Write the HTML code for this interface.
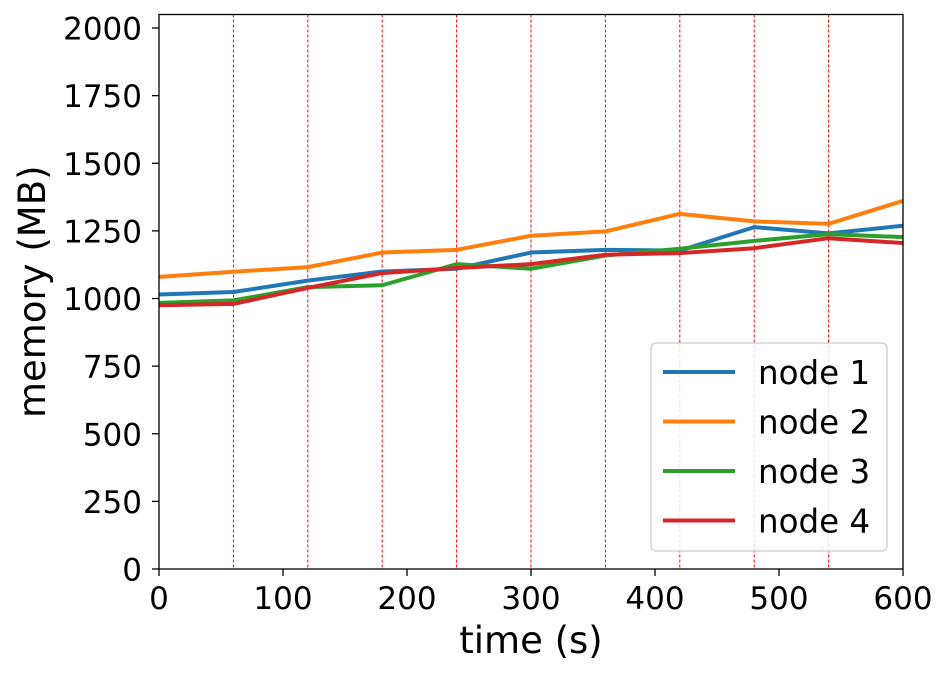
<!DOCTYPE html>
<html><head><meta charset="utf-8"><style>
body{margin:0;background:#fff;}
svg{display:block;font-family:"DejaVu Sans","Liberation Sans",sans-serif;}
</style></head><body>
<svg id="chart" width="949" height="676"></svg>
<script>
const times=[0,60,120,180,240,300,360,420,480,540,600];
const node1=[1015,1024,1066,1100,1110,1170,1180,1177,1264,1241,1269];
const node2=[1080,1099,1116,1170,1180,1232,1248,1313,1285,1276,1361];
const node3=[984,993,1042,1049,1127,1110,1159,1184,1213,1238,1227];
const node4=[975,980,1039,1094,1113,1127,1162,1168,1186,1223,1205];
const seriesNames=["node 1","node 2","node 3","node 4"];
const xTicks=[0,100,200,300,400,500,600];
const yTicks=[0,250,500,750,1000,1250,1500,1750,2000];
const vlines=[60,120,180,240,300,360,420,480,540];
const colors=["#1f77b4","#ff7f0e","#2ca02c","#d62728"];
const L=159,R=903,T=14.5,B=569,XMAX=600,YMAX=2050;
const sx=v=>L+(R-L)*v/XMAX, sy=v=>B-(B-T)*v/YMAX;
const svg=document.getElementById('chart');const NS="http://www.w3.org/2000/svg";
function mk(t,a,p){const e=document.createElementNS(NS,t);for(const k in a)e.setAttribute(k,a[k]);(p||svg).appendChild(e);return e;}
vlines.forEach(v=>{const l=mk('line',{x1:sx(v),x2:sx(v),y1:T,y2:B,stroke:'#ff0000','stroke-width':1,'stroke-dasharray':'3,2'});

});
[node1,node2,node3,node4].forEach((s,i)=>{const p=mk('polyline',{points:s.map((v,j)=>sx(times[j])+','+sy(v)).join(' '),fill:'none',stroke:colors[i],'stroke-width':4,'stroke-linejoin':'round'});

});
const fr=mk('rect',{x:L,y:T,width:R-L,height:B-T,fill:'none',stroke:'#000','stroke-width':1.3});


xTicks.forEach(v=>{mk('line',{x1:sx(v),x2:sx(v),y1:B,y2:B+7,stroke:'#000','stroke-width':1.3});
const t=mk('text',{x:sx(v),y:B+40,'font-size':31,'text-anchor':'middle'});t.textContent=v;

});
yTicks.forEach(v=>{mk('line',{x1:L-7,x2:L,y1:sy(v),y2:sy(v),stroke:'#000','stroke-width':1.3});
const t=mk('text',{x:L-17,y:sy(v)+11.5,'font-size':31,'text-anchor':'end'});t.textContent=v;

});
const xl=mk('text',{x:(L+R)/2,y:653,'font-size':37,'text-anchor':'middle'});xl.textContent='time (s)';


const yl=mk('text',{x:45,y:(T+B)/2,'font-size':37,'text-anchor':'middle',transform:'rotate(-90 45 '+((T+B)/2)+')'});yl.textContent='memory (MB)';


const g=mk('g',{});


mk('rect',{x:651,y:343,width:236,height:208,rx:5,fill:'#fff','fill-opacity':0.85,stroke:'#ccc','stroke-width':1.3},g);
seriesNames.forEach((n,i)=>{const y=372+i*49.5;
mk('line',{x1:663,x2:735,y1:y,y2:y,stroke:colors[i],'stroke-width':4},g);
const t=mk('text',{x:758,y:y+12,'font-size':32.5},g);t.textContent=n;

});
</script>
</body></html>
